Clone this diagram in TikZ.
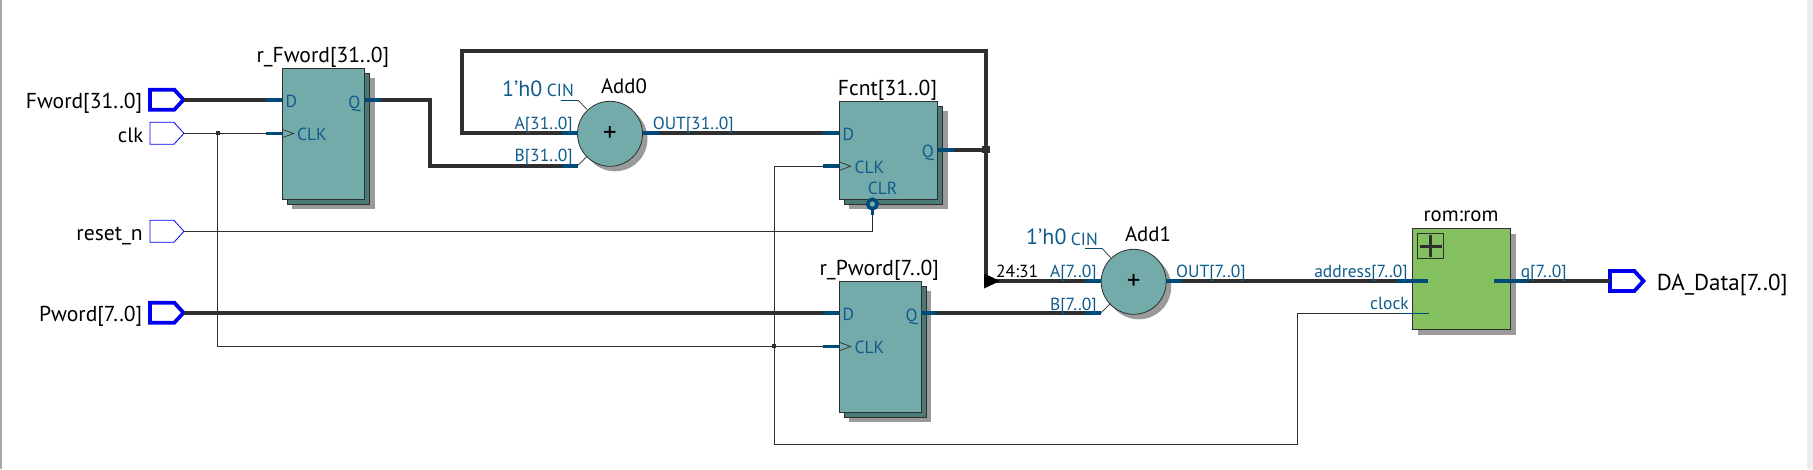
\documentclass[tikz,border=0pt]{standalone}
\usepackage{fontspec}
\usepackage{tikz}
\usetikzlibrary{shapes.symbols,shadows}
\setmainfont{PT Sans}

\definecolor{wirecol}{HTML}{2F2F2F}
\definecolor{stubcol}{HTML}{004A78}
\definecolor{portcol}{HTML}{0F5C8C}
\definecolor{regcol}{HTML}{73ABAB}
\definecolor{regback}{HTML}{4A7A78}
\definecolor{romcol}{HTML}{84BF60}
\definecolor{shadowcol}{HTML}{9A9A9A}
\definecolor{pincol}{HTML}{0000F0}

\tikzset{
  bus/.style={draw=wirecol,line width=3.8pt,line cap=butt,line join=miter},
  wire/.style={draw=wirecol,line width=1pt},
  busstub/.style={draw=stubcol,line width=3.8pt},
  clkstub/.style={draw=stubcol,line width=3.4pt},
  tick/.style={draw=wirecol,line width=0.7pt},
  regbox/.style={rectangle,draw=wirecol,line width=1pt,fill=regcol,inner sep=0pt,outer sep=0pt,
    general shadow={shadow xshift=10pt,shadow yshift=-10pt,fill=shadowcol,draw=none},
    general shadow={shadow xshift=5pt,shadow yshift=-5pt,fill=regback,draw=wirecol}},
  addbox/.style={circle,draw=wirecol,line width=0.8pt,fill=regcol,inner sep=0pt,outer sep=0pt,minimum size=65pt,
    general shadow={shadow xshift=5pt,shadow yshift=-5pt,fill=shadowcol,draw=none},
    font=\fontsize{27}{27}\selectfont},
  rombox/.style={rectangle,draw=wirecol,line width=1pt,fill=romcol,inner sep=0pt,outer sep=0pt,
    general shadow={shadow xshift=5.5pt,shadow yshift=-5.5pt,fill=shadowcol,draw=none}},
  buspin/.style={signal,signal to=east,signal pointer angle=95,draw=pincol,line width=3.8pt,fill=white,
    inner sep=0pt,outer sep=0pt,minimum width=33.5pt,minimum height=20pt},
  wirepin/.style={signal,signal to=east,signal pointer angle=95,draw=pincol,line width=0.8pt,fill=white,
    inner sep=0pt,outer sep=0pt,minimum width=34pt,minimum height=22pt},
  nametxt/.style={inner sep=0pt,text=black,font=\fontsize{21.6}{21.6}\selectfont},
  shorttxt/.style={inner sep=0pt,text=black,font=\fontsize{20.8}{20.8}\selectfont},
  porttxt/.style={inner sep=0pt,text=portcol,font=\fontsize{17.5}{17.5}\selectfont},
  consttxt/.style={inner sep=0pt,text=portcol,font=\fontsize{22}{22}\selectfont},
  smalldot/.style={rectangle,fill=wirecol,inner sep=0pt,minimum size=4pt},
  bigdot/.style={rectangle,fill=wirecol,inner sep=0pt,minimum size=7.5pt},
}

\begin{document}
\begin{tikzpicture}[x=1pt,y=-1pt]
\useasboundingbox (0,0) rectangle (1813,469);
\fill[color=white] (0,0) rectangle (1813,469);
\fill[color=black!35] (0,0) rectangle (2,469);
\fill[color=black!7] (1806.7,0) rectangle (1813,469);

% input and output pins
\node[buspin,anchor=east] (FwordPin) at (183.5,99.7) {};
\node[wirepin,anchor=east] (clkPin) at (184,133.3) {};
\node[wirepin,anchor=east] (resetPin) at (184,231.3) {};
\node[buspin,anchor=east] (PwordPin) at (183.5,312.7) {};
\node[buspin,anchor=west] (DataPin) at (1610,281) {};
\node[nametxt,anchor=base east] (FwordName) at (142.5,108.7) {Fword[31..0]};
\node[shorttxt,anchor=base east] (clkName) at (143.5,142) {clk};
\node[nametxt,anchor=base east] (resetName) at (143,240) {reset\_n};
\node[nametxt,anchor=base east] (PwordName) at (142.5,321.7) {Pword[7..0]};
\node[nametxt,anchor=base west,font=\fontsize{23}{23}\selectfont] (DataName) at (1656.6,290) {DA\_Data[7..0]};

% ports of the blocks
\coordinate (rFwordD) at (282,99.7);
\coordinate (rFwordClk) at (282,133.3);
\coordinate (rFwordQ) at (364.6,99.7);
\coordinate (Add0A) at (577.5,132.7);
\coordinate (Add0B) at (577.5,165.7);
\coordinate (Add0Out) at (642.7,132.7);
\coordinate (FcntD) at (839,132.7);
\coordinate (FcntClk) at (839,166);
\coordinate (FcntQ) at (937.6,149.7);
\coordinate (FcntClr) at (872.4,215);
\coordinate (rPwordD) at (839,312.7);
\coordinate (rPwordClk) at (839,346.3);
\coordinate (rPwordQ) at (921.4,312.7);
\coordinate (Add1A) at (1101,281);
\coordinate (Add1B) at (1101,312.7);
\coordinate (Add1Out) at (1166.4,281);
\coordinate (romAddr) at (1428,281);
\coordinate (romClock) at (1428.7,313.3);
\coordinate (romQ) at (1494,281);

% junctions
\coordinate (clkSplit) at (217.5,133.3);
\coordinate (clkDown) at (217.5,346.3);
\coordinate (clkJoin) at (774.4,346.3);
\coordinate (loopNE) at (986,51);
\coordinate (loopNW) at (462,51);
\coordinate (tapJoin) at (986,149.7);
\coordinate (tapEnd) at (986,281);

% wires
\draw[wire] (clkPin.east) -- (rFwordClk);
\draw[wire] (resetPin.east) -- (FcntClr |- resetPin.east) -- (FcntClr);
\draw[wire] (clkSplit) -- (clkDown) -- (rPwordClk);
\draw[wire] (clkJoin) -- (774.4,166) -- (FcntClk);
\draw[wire] (clkJoin) -- (774.4,444.3) -- (1297.3,444.3) -- (1297.3,313.3) -- (romClock);
\draw[bus] (FwordPin.east) -- (rFwordD);
\draw[bus] (rFwordQ) -- (430,99.7) -- (430,165.7) -- (Add0B);
\draw[bus] (Add0Out) -- (FcntD);
\draw[bus] (FcntQ) -- (tapJoin);
\draw[bus] (Add0A) -- (462,132.7) -- (loopNW) -- (loopNE) -- (tapEnd);
\draw[bus] (tapEnd) -- (Add1A);
\draw[bus] (PwordPin.east) -- (rPwordD);
\draw[bus] (rPwordQ) -- (Add1B);
\draw[bus] (Add1Out) -- (romAddr);
\draw[bus] (romQ) -- (DataPin.west);
\fill[color=black] (984,273.5) -- (1000,281) -- (984,288.5) -- cycle;

% blocks
\node[regbox,minimum width=82.6pt,minimum height=131pt,anchor=north west] (rFword) at (282,68.3) {};
\node[regbox,minimum width=98.6pt,minimum height=98pt,anchor=north west] (Fcnt) at (839,101.3) {};
\node[regbox,minimum width=82.4pt,minimum height=131pt,anchor=north west] (rPword) at (839,281.3) {};
\node[addbox] (Add0) at (610,133.8) {+};
\node[addbox] (Add1) at (1133.7,281.8) {+};
\node[rombox,minimum width=98.5pt,minimum height=101pt,anchor=north west] (rom) at (1412.3,228.3) {};
\node[rectangle,draw=wirecol,line width=1pt,fill=romcol,minimum width=25.4pt,minimum height=25pt,inner sep=0pt,
  anchor=north west] (romPlus) at (1417.4,233.3) {};
\draw[draw=wirecol,line width=3.6pt] (romPlus.center) ++(-11,0) -- ++(22,0);
\draw[draw=wirecol,line width=3.6pt] (romPlus.center) ++(0,-11) -- ++(0,22);

% coloured stubs on the ports
\draw[busstub] (rFwordD) -- ++(-16,0);
\draw[busstub] (rFwordQ) -- ++(16,0);
\draw[clkstub] (rFwordClk) -- ++(-16,0);
\draw[busstub] (Add0A) -- ++(-16,0);
\draw[busstub] (Add0B) -- ++(-16,0);
\draw[busstub] (Add0Out) -- ++(16,0);
\draw[busstub] (FcntD) -- ++(-16,0);
\draw[busstub] (FcntQ) -- ++(16,0);
\draw[clkstub] (FcntClk) -- ++(-16,0);
\draw[busstub] (rPwordD) -- ++(-16,0);
\draw[busstub] (rPwordQ) -- ++(16,0);
\draw[clkstub] (rPwordClk) -- ++(-16,0);
\draw[busstub] (Add1A) -- ++(-16,0);
\draw[busstub] (Add1B) -- ++(-16,0);
\draw[busstub] (Add1Out) -- ++(16,0);
\draw[busstub] (romAddr) -- ++(-32,0);
\draw[busstub] (romQ) -- ++(32.8,0);
\draw[draw=stubcol,line width=1pt] (romClock) -- ++(-32,0);
\draw[draw=stubcol,line width=3.8pt] (FcntClr) -- ++(0,-8);
\node[circle,draw=stubcol,line width=3.6pt,fill=regcol,minimum size=9.5pt,inner sep=0pt] (FcntBubble) at (872.4,204) {};

% clock wedges and carry ticks
\draw[tick] (282,129.3) -- (293.7,133.5) -- (282,137.7);
\draw[tick] (839,161.8) -- (850.7,166.2) -- (839,170.6);
\draw[tick] (839,342.1) -- (850.7,346.5) -- (839,350.9);
\draw[draw=stubcol,line width=0.9pt] (561,100) -- (578,100);
\draw[tick] (578,100) -- (587,109.5);
\draw[tick] (577.5,165.7) -- (587,156.5);
\draw[draw=stubcol,line width=0.9pt] (1085.4,248.3) -- (1102,248.3);
\draw[tick] (1102,248.3) -- (1110.7,257.7);
\draw[tick] (1101,312.7) -- (1110.5,303.5);

\node[smalldot] (clkDot) at (clkSplit) {};
\node[smalldot] (joinDot) at (clkJoin) {};
\node[bigdot] (tapDot) at (tapJoin) {};

% block titles
\node[nametxt,anchor=base] (rFwordName) at (322.8,62.3) {r\_Fword[31..0]};
\node[nametxt,anchor=base] (FcntName) at (887.5,95) {Fcnt[31..0]};
\node[nametxt,anchor=base] (rPwordName) at (879.3,275) {r\_Pword[7..0]};
\node[shorttxt,anchor=base] (Add0Name) at (624,93.3) {Add0};
\node[shorttxt,anchor=base] (Add1Name) at (1148,241.7) {Add1};
\node[shorttxt,anchor=base] (romName) at (1461,221.7) {rom:rom};

% port texts
\node[porttxt,anchor=base west] (rFwordDTxt) at (285.4,107.3) {D};
\node[porttxt,anchor=base west] (rFwordClkTxt) at (297,140) {CLK};
\node[porttxt,anchor=base east] (rFwordQTxt) at (360.5,108) {Q};
\node[consttxt,anchor=base west] (Add0Cin) at (502,96) {1'h0};
\node[porttxt,anchor=base east] (Add0CinTxt) at (574,96.7) {CIN};
\node[porttxt,anchor=base east] (Add0ATxt) at (573,129.3) {A[31..0]};
\node[porttxt,anchor=base east] (Add0BTxt) at (573,161.7) {B[31..0]};
\node[porttxt,anchor=base west] (Add0OutTxt) at (652.6,129.3) {OUT[31..0]};
\node[porttxt,anchor=base west] (FcntDTxt) at (842.3,140.7) {D};
\node[porttxt,anchor=base west] (FcntClkTxt) at (854.5,173.3) {CLK};
\node[porttxt,anchor=base west] (FcntClrTxt) at (867.6,194.3) {CLR};
\node[porttxt,anchor=base east] (FcntQTxt) at (934,157.3) {Q};
\node[porttxt,anchor=base west] (rPwordDTxt) at (842.3,320.7) {D};
\node[porttxt,anchor=base west] (rPwordClkTxt) at (854.5,353.3) {CLK};
\node[porttxt,anchor=base east] (rPwordQTxt) at (917.8,321.7) {Q};
\node[consttxt,anchor=base west] (Add1Cin) at (1026,244) {1'h0};
\node[porttxt,anchor=base east] (Add1CinTxt) at (1098,245.3) {CIN};
\node[porttxt,anchor=base west,text=black] (tapTxt) at (996,277.3) {24:31};
\node[porttxt,anchor=base east] (Add1ATxt) at (1097,277.3) {A[7..0]};
\node[porttxt,anchor=base east] (Add1BTxt) at (1097,310) {B[7..0]};
\node[porttxt,anchor=base west] (Add1OutTxt) at (1176,277.3) {OUT[7..0]};
\node[porttxt,anchor=base east] (romAddrTxt) at (1408,277.3) {address[7..0]};
\node[porttxt,anchor=base east] (romClockTxt) at (1409,309.3) {clock};
\node[porttxt,anchor=base west] (romQTxt) at (1520.6,277.3) {q[7..0]};
\end{tikzpicture}
\end{document}
